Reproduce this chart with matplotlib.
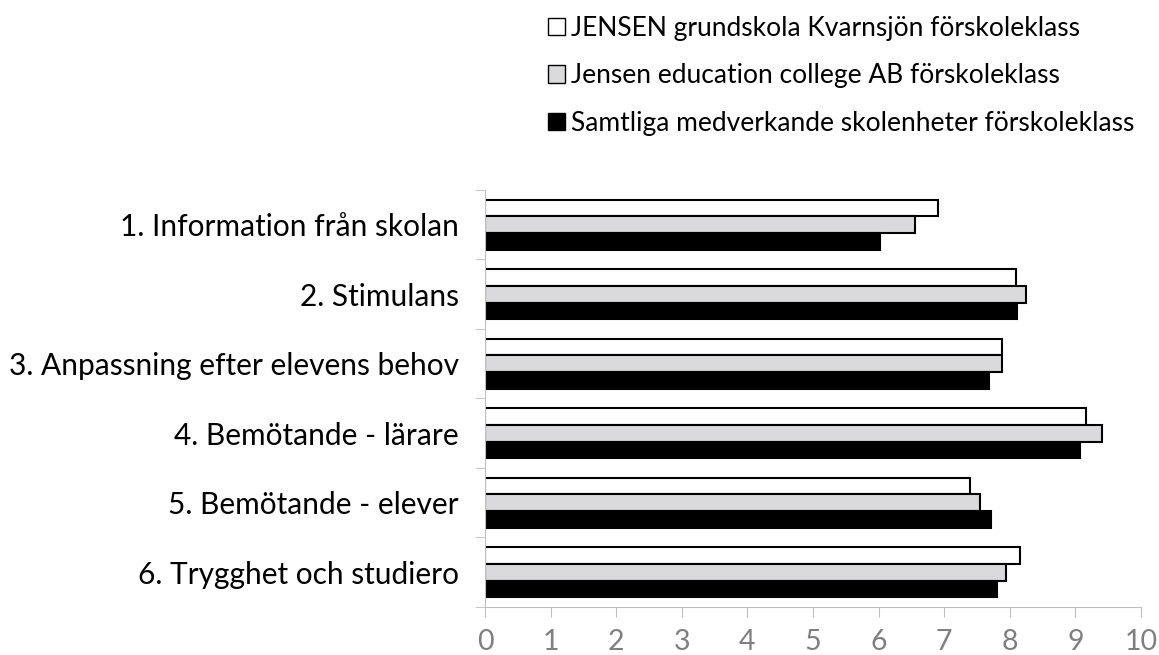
import matplotlib.pyplot as plt
import numpy as np
from matplotlib.patches import Patch

plt.rcParams['font.family'] = ['Lato', 'DejaVu Sans']

categories = ["1. Information från skolan", "2. Stimulans", "3. Anpassning efter elevens behov",
              "4. Bemötande - lärare", "5. Bemötande - elever", "6. Trygghet och studiero"]
series_names = ["JENSEN grundskola Kvarnsjön förskoleklass",
                "Jensen education college AB förskoleklass",
                "Samtliga medverkande skolenheter förskoleklass"]
kvarnsjon = [6.91, 8.10, 7.88, 9.16, 7.39, 8.15]
jensen_ab = [6.55, 8.24, 7.88, 9.40, 7.55, 7.94]
samtliga = [6.02, 8.11, 7.68, 9.07, 7.71, 7.80]
colors = ["white", "#dadadc", "black"]

fig = plt.figure(figsize=(11.59, 6.55), dpi=100)
ax = fig.add_axes([0.4185, 0.0733, 0.566, 0.6367])

y = np.arange(len(categories))
h = 0.24
for i, (vals, c) in enumerate(zip([kvarnsjon, jensen_ab, samtliga], colors)):
    ax.barh(y - h + i * h, vals, height=h, color=c, edgecolor="black", linewidth=1.5)

ax.set_xlim(0, 10)
ax.set_ylim(len(categories) - 0.5, -0.5)
ax.set_xticks(range(11))
ax.set_yticks(y)
ax.set_yticklabels(categories)
ax.set_yticks(np.arange(-0.5, len(categories)), minor=True)

for s in ["top", "right"]:
    ax.spines[s].set_visible(False)
for s in ["left", "bottom"]:
    ax.spines[s].set_color("#bfbfbf")
ax.tick_params(axis="x", colors="#bfbfbf", labelcolor="#7f7f7f", labelsize=20.5, length=7, pad=9)
ax.tick_params(axis="y", which="major", length=0, labelsize=21.5, pad=19)
ax.tick_params(axis="y", which="minor", length=7, color="#bfbfbf")

handles = [Patch(facecolor=c, edgecolor="black", linewidth=1) for c in colors]
fig.legend(handles, series_names, loc="upper left", bbox_to_anchor=(0.452, 1.012),
           frameon=False, fontsize=19, handlelength=0.65, handleheight=0.65,
           handletextpad=0.25, labelspacing=0.85)

fig.savefig("out.png")
